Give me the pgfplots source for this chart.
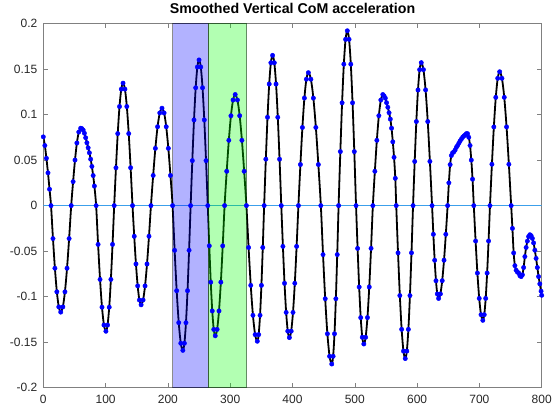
\documentclass[border=0pt]{standalone}
\usepackage{fontspec}
\setmainfont{Liberation Sans}
\usepackage{pgfplots}
\pgfplotsset{compat=1.18}
\usepackage{pgfplotstable}
\definecolor{zl}{RGB}{60,160,235}

\pgfplotstableread{
x y
0 0.0755
2.5 0.066
5 0.052
7.5 0.036
10 0.018
12.4 0
15.52 -0.0362
18.64 -0.0688
21.76 -0.0947
24.88 -0.1113
28 -0.117
31.36 -0.1113
34.72 -0.0947
38.08 -0.0688
41.44 -0.0362
44.8 0
47.84 0.0263
50.88 0.0500
53.92 0.0688
56.96 0.0808
60 0.085
62 0.0845
64 0.083
66 0.0795
68 0.0745
70 0.069
72 0.0635
74 0.058
76 0.051
78 0.043
80 0.033
82 0.0215
84.8 0
87.94 -0.0426
91.08 -0.0811
94.22 -0.1116
97.36 -0.1312
100.5 -0.138
103.16 -0.1312
105.82 -0.1116
108.48 -0.0811
111.14 -0.0426
113.8 0
116.64 0.0416
119.48 0.0791
122.32 0.1088
125.16 0.1279
128 0.1345
131.04 0.1279
134.08 0.1088
137.12 0.0791
140.16 0.0416
143.2 0
145.96 -0.0337
148.72 -0.0641
151.48 -0.0882
154.24 -0.1037
157 -0.109
160.16 -0.1037
163.32 -0.0882
166.48 -0.0641
169.64 -0.0337
172.8 0
176.34 0.0331
179.88 0.0629
183.42 0.0866
186.96 0.1018
190.5 0.107
193.9 0.1018
197.3 0.0866
200.7 0.0629
204.1 0.0331
207.5 0
210.8 -0.0491
214.1 -0.0935
217.4 -0.1286
220.7 -0.1512
224 -0.159
226.5 -0.1512
229 -0.1286
231.5 -0.0935
234 -0.0491
236.5 0
239.2 0.0494
241.9 0.0941
244.6 0.1294
247.3 0.1522
250 0.160
252.8 0.1522
255.6 0.1294
258.4 0.0941
261.2 0.0494
264 0
266.4 -0.0442
268.8 -0.0841
271.2 -0.1157
273.6 -0.1360
276 -0.143
279 -0.1360
282 -0.1157
285 -0.0841
288 -0.0442
291 0
294.4 0.0377
297.8 0.0717
301.2 0.0987
304.6 0.1160
308 0.122
311.6 0.1160
315.2 0.0987
318.8 0.0717
322.4 0.0377
326 0
329.5 -0.0460
333 -0.0876
336.5 -0.1205
340 -0.1417
343.5 -0.149
345.7 -0.1417
347.9 -0.1205
350.1 -0.0876
352.3 -0.0460
354.5 0
357.2 0.0510
359.9 0.0970
362.6 0.1335
365.3 0.1569
368 0.165
370.8 0.1569
373.6 0.1335
376.4 0.0970
379.2 0.0510
382 0
384.6 -0.0448
387.2 -0.0853
389.8 -0.1173
392.4 -0.1379
395 -0.145
397.9 -0.1379
400.8 -0.1173
403.7 -0.0853
406.6 -0.0448
409.5 0
412.7 0.0451
415.9 0.0858
419.1 0.1181
422.3 0.1388
425.5 0.146
429.5 0.1388
433.5 0.1181
437.5 0.0858
441.5 0.0451
445.5 0
449 -0.0538
452.5 -0.1023
456 -0.1408
459.5 -0.1655
463 -0.174
465.2 -0.1655
467.4 -0.1408
469.6 -0.1023
471.8 -0.0538
474 0
476.8 0.0593
479.6 0.1129
482.4 0.1553
485.2 0.1826
488 0.192
490.8 0.1826
493.6 0.1553
496.4 0.1129
499.2 0.0593
502 0
504.5 -0.0470
507 -0.0894
509.5 -0.1230
512 -0.1446
514.5 -0.152
517.4 -0.1446
520.3 -0.1230
523.2 -0.0894
526.1 -0.0470
529 0
532.2 0.0377
535.4 0.0717
538.6 0.0987
541.8 0.1160
545 0.122
547 0.1205
549 0.118
551 0.113
553 0.108
555 0.102
557 0.095
559 0.085
561 0.070
563 0.053
565 0.030
566.5 0
569.4 -0.0519
572.3 -0.0988
575.2 -0.1359
578.1 -0.1598
581 -0.168
583.5 -0.1598
586 -0.1359
588.5 -0.0988
591 -0.0519
593.5 0
596.14 0.0485
598.78 0.0923
601.42 0.1270
604.06 0.1493
606.7 0.157
610.16 0.1493
613.62 0.1270
617.08 0.0923
620.54 0.0485
624 0
626.1 -0.0315
628.2 -0.0600
630.3 -0.0825
632.4 -0.0970
634.5 -0.102
637.4 -0.0970
640.3 -0.0825
643.2 -0.0600
646.1 -0.0315
649 0
651 0.025
653 0.045
655 0.055
657 0.058
659 0.059
661 0.061
663 0.064
665 0.066
667 0.0685
669 0.071
671 0.073
673 0.075
675 0.0765
677 0.0775
679 0.079
681 0.079
683 0.075
685 0.066
687 0.050
689 0.029
691 0
693.9 -0.0389
696.8 -0.0741
699.7 -0.1019
702.6 -0.1198
705.5 -0.126
707.8 -0.1198
710.1 -0.1019
712.4 -0.0741
714.7 -0.0389
717 0
720.1 0.0454
723.2 0.0864
726.3 0.1189
729.4 0.1398
732.5 0.147
736.2 0.1398
739.9 0.1189
743.6 0.0864
747.3 0.0454
751 0
753 -0.025
755 -0.052
757 -0.066
759 -0.071
761 -0.073
763 -0.074
765 -0.077
767 -0.078
769 -0.076
771 -0.068
773 -0.056
775 -0.046
777 -0.039
779 -0.034
781 -0.032
783 -0.033
785 -0.036
787 -0.041
789 -0.049
791 -0.058
793 -0.068
795 -0.078
797 -0.086
799 -0.094
800 -0.0985
}\acc

\pgfplotstableread{
xx yy
0 0
800 0
}\zerotab

\begin{document}
\begin{tikzpicture}
\begin{axis}[
  scale only axis, width=498.4pt, height=364.2pt,
  xmin=0, xmax=800, ymin=-0.2, ymax=0.2,
  xtick={0,100,200,300,400,500,600,700,800},
  ytick={-0.2,-0.15,-0.1,-0.05,0,0.05,0.1,0.15,0.2},
  scaled y ticks=false, scaled x ticks=false,
  /pgf/number format/assume math mode=true,
  yticklabel style={/pgf/number format/fixed, /pgf/number format/precision=2, xshift=-2.5pt},
  xticklabel style={yshift=-4pt},
  tick label style={font=\fontsize{12}{14}\selectfont, text=black!85},
  axis line style={black!50, line width=0.6pt},
  major tick style={black!50, line width=0.6pt},
  major tick length=5pt,
  title={\bfseries Smoothed Vertical CoM acceleration},
  title style={font=\fontsize{14.2}{16}\selectfont, text=black},
]
\addplot[black, line width=1.8pt, smooth, no markers] table[x=x,y=y] {\acc};
\addplot[only marks, mark=*, mark size=2.2pt, mark options={fill=blue, draw=blue}] table[x=x,y=y] {\acc};
\addplot[draw=zl, line width=1.5pt, mark=none] table[x=xx,y=yy] {\zerotab};
\addplot[draw=black, draw opacity=0.45, line width=0.8pt, fill=blue, fill opacity=0.3] coordinates {(207.6,-0.2) (207.6,0.2) (264.9,0.2) (264.9,-0.2)} -- cycle;
\addplot[draw=black, draw opacity=0.45, line width=0.8pt, fill=green, fill opacity=0.3] coordinates {(264.9,-0.2) (264.9,0.2) (326.4,0.2) (326.4,-0.2)} -- cycle;
\end{axis}
\pgfresetboundingbox
\path[use as bounding box] ([xshift=-43.3pt,yshift=-21.3pt]current axis.south west) rectangle ([xshift=10.3pt,yshift=23.5pt]current axis.north east);
\end{tikzpicture}
\end{document}
